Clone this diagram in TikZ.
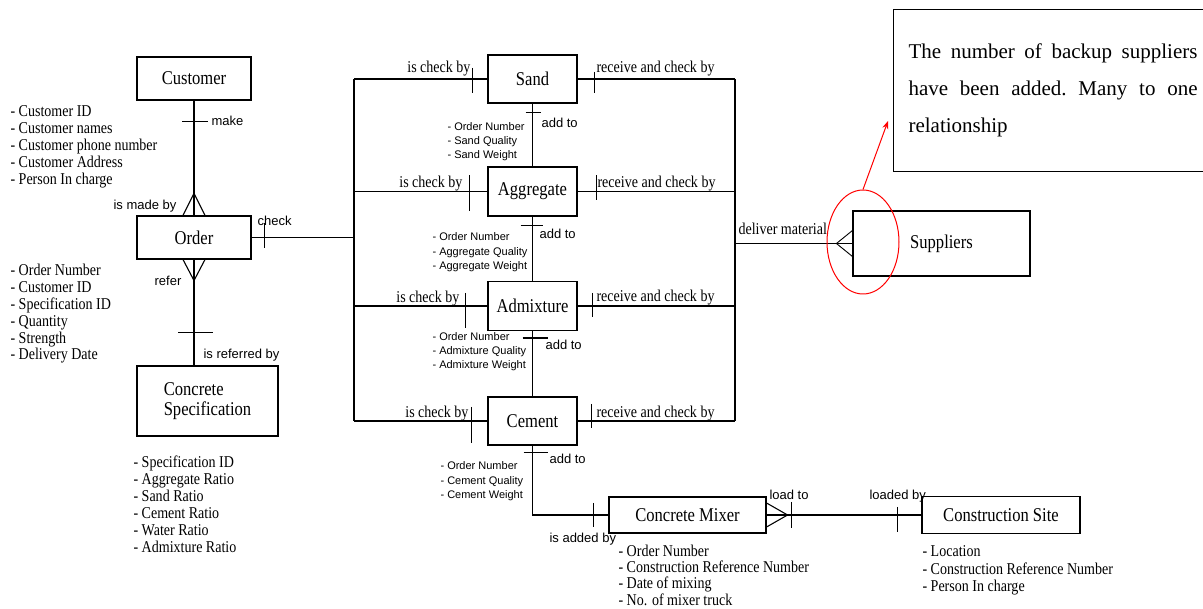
\documentclass[tikz,border=0pt]{standalone}
\usepackage{fontspec}
\setmainfont{Liberation Serif}
\newfontfamily\cserif[FakeStretch=0.85]{Liberation Serif}
\newfontfamily\asans{Liberation Sans}
\usetikzlibrary{calc,arrows.meta,shapes.geometric}
\begin{document}
\begin{tikzpicture}[x=1pt,y=-1pt,line width=1.1pt,
  entity/.style={draw,line width=1.1pt,inner sep=0pt,font=\cserif\fontsize{19.5}{20}\selectfont},
  attr/.style={inner sep=0pt,anchor=base west,font=\cserif\fontsize{16.5}{18}\selectfont},
  mattr/.style={inner sep=0pt,anchor=base west,font=\asans\fontsize{11}{13}\selectfont},
  lbl/.style={inner sep=0pt,font=\asans\fontsize{13}{15}\selectfont},
  slbl/.style={inner sep=0pt,font=\cserif\fontsize{16.5}{18}\selectfont},
  notetxt/.style={inner sep=0pt,anchor=base west,font=\fontsize{21}{24}\selectfont},
  hl/.style={draw=red,line width=1pt}]
\useasboundingbox (0,0) rectangle (1203,609);

% entities
\node[entity,minimum width=114,minimum height=43] (cust) at (194,78.5) {Customer};
\node[entity,minimum width=114,minimum height=43] (order) at (194,237.5) {Order};
\node[entity,minimum width=141,minimum height=70,align=left] (spec) at (207.5,401) {Concrete\\Specification};
\node[entity,minimum width=89,minimum height=48] (sand) at (532.5,79) {Sand};
\node[entity,minimum width=89,minimum height=49] (agg) at (532.5,191.5) {Aggregate};
\node[entity,minimum width=89,minimum height=49] (adm) at (532.5,306) {Admixture};
\node[entity,minimum width=89,minimum height=48] (cem) at (532.5,421) {Cement};
\node[entity,minimum width=157,minimum height=36] (mixer) at (687.5,515) {Concrete Mixer};
\node[entity,minimum width=158,minimum height=37] (site) at (1001,515) {Construction Site};
\node[entity,minimum width=177,minimum height=65] (supp) at (941.5,243.5) {Suppliers};

\coordinate (lb) at (354,0);
\coordinate (rb) at (735,0);

% connectors
\draw (cust) -- (order);
\draw (order.south) -- (order.south |- spec.north);
\draw (order.east) -- (lb |- order.east);
\draw (lb |- sand.west) -- (lb |- cem.west);
\draw (rb |- sand.east) -- (rb |- cem.east);
\foreach \n in {sand,agg,adm,cem}{
  \draw (lb |- \n.west) -- (\n.west);
  \draw (\n.east) -- (rb |- \n.east);
}
\draw (rb |- supp.west) -- (supp.west);
\draw (sand) -- (agg);
\draw (agg) -- (adm);
\draw (adm) -- (cem);
\draw (cem.south) |- (mixer.west);
\draw (mixer.east) -- (site.west);

% crow's feet
\draw ($(order.north)+(-11,0)$) -- ($(order.north)+(0,-22)$) -- ($(order.north)+(11,0)$);
\draw ($(order.south)+(-11,0)$) -- ($(order.south)+(0,21)$) -- ($(order.south)+(11,0)$);
\draw ($(mixer.east)+(0,-12)$) -- ($(mixer.east)+(21,0)$) -- ($(mixer.east)+(0,12)$);
\draw[line width=0.9pt] ($(supp.west)+(0,-13)$) -- ($(supp.west)+(-16,0)$) -- ($(supp.west)+(0,13)$);

% ticks
\draw ($(cust.south)+(-12,21)$) -- ($(cust.south)+(14,21)$);
\draw ($(order.south)+(-16,73)$) -- ($(order.south)+(19,73)$);
\draw ($(order.east)+(13,-14)$) -- ($(order.east)+(13,11)$);
\draw ($(sand.west)+(-15,-11)$) -- ($(sand.west)+(-15,14)$);
\draw ($(sand.east)+(17,-7)$) -- ($(sand.east)+(17,14)$);
\draw ($(agg.west)+(-18,-16)$) -- ($(agg.west)+(-18,20)$);
\draw ($(agg.east)+(19,-16)$) -- ($(agg.east)+(19,9)$);
\draw ($(adm.west)+(-22,-13)$) -- ($(adm.west)+(-22,22)$);
\draw ($(adm.east)+(15,-13)$) -- ($(adm.east)+(15,11)$);
\draw ($(cem.west)+(-16,-14)$) -- ($(cem.west)+(-16,22)$);
\draw ($(cem.east)+(14,-17)$) -- ($(cem.east)+(14,7)$);
\draw ($(sand.south)+(-7,9)$) -- ($(sand.south)+(8,9)$);
\draw ($(agg.south)+(-12,9)$) -- ($(agg.south)+(10,9)$);
\draw ($(adm.south)+(-10,7)$) -- ($(adm.south)+(15,7)$);
\draw ($(cem.south)+(-9,7)$) -- ($(cem.south)+(15,7)$);
\draw ($(mixer.west)+(-15,-12)$) -- ($(mixer.west)+(-15,12)$);
\draw ($(mixer.east)+(25,-13)$) -- ($(mixer.east)+(25,13)$);
\draw ($(site.west)+(-24,-8)$) -- ($(site.west)+(-24,17)$);

% relationship labels
\node[lbl,anchor=base west] (lmake) at (211,125.5) {make};
\node[lbl,anchor=base east] (lmadeby) at (177,210) {is made by};
\node[lbl,anchor=base west] (lcheck) at (257,226) {check};
\node[lbl,anchor=base] (lrefer) at (168,286) {refer};
\node[lbl,anchor=base west] (lrefby) at (203,359) {is referred by};

\node[slbl,anchor=base east] (c1) at (471,73) {is check by};
\node[slbl,anchor=base east] (c2) at (463,188) {is check by};
\node[slbl,anchor=base east] (c3) at (460,303) {is check by};
\node[slbl,anchor=base east] (c4) at (469,418) {is check by};
\node[slbl,anchor=base west] (r1) at (596,73) {receive and check by};
\node[slbl,anchor=base west] (r2) at (597,188) {receive and check by};
\node[slbl,anchor=base west] (r3) at (596,302) {receive and check by};
\node[slbl,anchor=base west] (r4) at (596,418) {receive and check by};

\node[lbl,anchor=base west] (a1) at (541,128) {add to};
\node[lbl,anchor=base west] (a2) at (539,239) {add to};
\node[lbl,anchor=base west] (a3) at (545,350) {add to};
\node[lbl,anchor=base west] (a4) at (549,464) {add to};
\node[lbl,anchor=base west] (laddby) at (549,543) {is added by};
\node[lbl,anchor=base west] (lload) at (769,500) {load to};
\node[lbl,anchor=base west] (lloaded) at (869,500) {loaded by};
\node[slbl,anchor=base west] (ldel) at (738,235) {deliver material};

% attributes
\foreach \t [count=\i from 0] in {Customer ID,Customer names,Customer phone number,Customer Address,Person In charge}
  \node[attr] (ca\i) at (10,117+16.8*\i) {- \t};
\foreach \t [count=\i from 0] in {Order Number,Customer ID,Specification ID,Quantity,Strength,Delivery Date}
  \node[attr] (oa\i) at (10,276+16.8*\i) {- \t};
\foreach \t [count=\i from 0] in {Specification ID,Aggregate Ratio,Sand Ratio,Cement Ratio,Water Ratio,Admixture Ratio}
  \node[attr] (sa\i) at (133,468+16.8*\i) {- \t};
\foreach \t [count=\i from 0] in {Order Number,Construction Reference Number,Date of mixing,No. of mixer truck}
  \node[attr] (ma\i) at (618,556+16.4*\i) {- \t};
\foreach \t [count=\i from 0] in {Location,Construction Reference Number,Person In charge}
  \node[attr] (ta\i) at (922,557+17*\i) {- \t};

\foreach \t [count=\i from 0] in {Order Number,Sand Quality,Sand Weight}
  \node[mattr] (sda\i) at (447,131+14*\i) {- \t};
\foreach \t [count=\i from 0] in {Order Number,Aggregate Quality,Aggregate Weight}
  \node[mattr] (aga\i) at (432,241+14.5*\i) {- \t};
\foreach \t [count=\i from 0] in {Order Number,Admixture Quality,Admixture Weight}
  \node[mattr] (ada\i) at (432,341+14*\i) {- \t};
\foreach \t [count=\i from 0] in {Order Number,Cement Quality,Cement Weight}
  \node[mattr] (cea\i) at (440,470+14.5*\i) {- \t};

% note box
\draw[line width=1pt] (1203,10) -- (893,10) -- (893,172) -- (1203,172);
\node[notetxt] (n1) at (908,59) {\hbox to 289pt{The\hfill number\hfill of\hfill backup\hfill suppliers}};
\node[notetxt] (n2) at (908,96) {\hbox to 289pt{have\hfill been\hfill added.\hfill Many\hfill to\hfill one}};
\node[notetxt] (n3) at (908,133) {relationship};

% highlight
\node[hl,ellipse,minimum width=72,minimum height=104,inner sep=0pt] (ring) at (863,242) {};
\coordinate (tip) at (888,121);
\draw[red,line width=1pt,-{Stealth[length=8pt,width=6pt]}] (ring.north) -- (tip);
\end{tikzpicture}
\end{document}
